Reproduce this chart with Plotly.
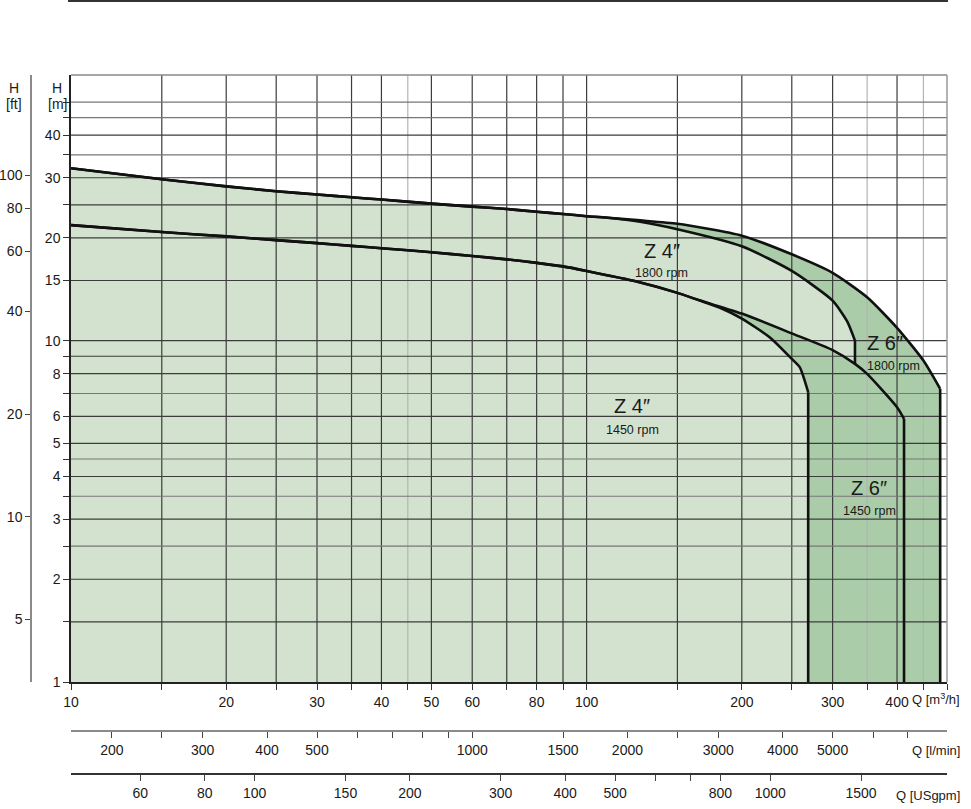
import math
import plotly.graph_objects as go

# ---------------- data ----------------
# Flow Q in m3/h, head H in m
Q_Z6_1800 = [10, 15, 20, 25, 30, 35, 40, 50, 60, 70, 80, 90, 100, 110, 127, 150, 200, 250, 300, 350, 400, 450, 485]
H_Z6_1800 = [32.0, 29.7, 28.3, 27.4, 26.8, 26.3, 25.9, 25.2, 24.7, 24.3, 23.85, 23.5, 23.15, 22.9, 22.5, 22.0, 20.3, 17.9, 15.8, 13.4, 10.9, 8.74, 7.22]

Q_Z4_1800 = [10, 15, 20, 25, 30, 35, 40, 50, 60, 70, 80, 90, 100, 110, 127, 150, 200, 250, 300, 320, 331.5, 331.5]
H_Z4_1800 = [32.0, 29.7, 28.3, 27.4, 26.8, 26.3, 25.9, 25.2, 24.7, 24.3, 23.85, 23.5, 23.15, 22.9, 22.3, 21.2, 18.9, 16.0, 13.1, 11.4, 10.0, 8.55]

Q_Z6_1450 = [10, 15, 20, 25, 30, 35, 40, 45, 50, 60, 70, 80, 90, 100, 125, 150, 166, 200, 250, 300, 331.5, 350, 400, 412.7]
H_Z6_1450 = [21.8, 20.8, 20.2, 19.7, 19.3, 18.95, 18.65, 18.4, 18.15, 17.7, 17.3, 16.9, 16.5, 16.0, 14.9, 13.8, 13.1, 12.0, 10.5, 9.38, 8.55, 7.99, 6.38, 5.9]

Q_Z4_1450 = [10, 15, 20, 25, 30, 35, 40, 45, 50, 60, 70, 80, 90, 100, 125, 150, 166, 181, 200, 227, 250, 259, 269]
H_Z4_1450 = [21.8, 20.8, 20.2, 19.7, 19.3, 18.95, 18.65, 18.4, 18.15, 17.7, 17.3, 16.9, 16.5, 16.0, 14.9, 13.8, 13.1, 12.5, 11.6, 10.2, 8.84, 8.36, 7.06]

# axis ranges
Q_RANGE = [10, 500]
H_RANGE = [1, 60]

# grid / tick values
GRID_Q = [15, 20, 25, 30, 35, 40, 45, 50, 60, 70, 80, 90, 100, 150, 200, 250, 300, 350, 400, 450]
GRID_Q_LIGHT = [45, 350, 450]
GRID_H = [1.5, 2, 2.5, 3, 3.5, 4, 4.5, 5, 6, 7, 8, 9, 10, 15, 20, 25, 30, 35, 40, 45, 50]
GRID_H_LIGHT = [2.5, 3.5, 4.5, 7, 35, 45, 50]

Q_LABELS = [10, 20, 30, 40, 50, 60, 80, 100, 200, 300, 400]
H_LABELS = [1, 2, 3, 4, 5, 6, 8, 10, 15, 20, 30, 40]

FT_TICKS = [5, 10, 20, 40, 60, 80, 100]
LMIN_TICKS = [200, 250, 300, 400, 500, 600, 700, 800, 900, 1000, 1500, 2000, 2500, 3000, 4000, 5000, 6000, 7000]
LMIN_LABELS = [200, 300, 400, 500, 1000, 1500, 2000, 3000, 4000, 5000]
GPM_TICKS = [60, 80, 100, 150, 200, 300, 400, 500, 600, 700, 800, 1000, 1500]
GPM_LABELS = [60, 80, 100, 150, 200, 300, 400, 500, 800, 1000, 1500]

# unit conversions
LMIN_PER_M3H = 1000.0 / 60.0
GPM_PER_M3H = 1.0 / 0.227125
FT_PER_M = 1.0 / 0.3048

# curve labels: (text, sub-text, Q, H of title, H of sub-text, anchor)
LABELS = [
    ("Z 4″", "1800 rpm", 140, 18.3, 15.8, "center"),
    ("Z 6″", "1800 rpm", 347, 9.87, 8.45, "left"),
    ("Z 4″", "1450 rpm", 122.5, 6.45, 5.49, "center"),
    ("Z 6″", "1450 rpm", 353, 3.69, 3.16, "center"),
]

# ---------------- styling ----------------
LIGHT = "#d3e2ce"
DARK = "#aacca8"
GRID_DARK = "#3c3c3c"
GRID_LIGHT = "#b4b4b4"
FONT = "Liberation Sans Narrow, Arial Narrow, Liberation Sans, Arial, sans-serif"
TXT = "#1a1a1a"

W, Hh = 971, 809


def pxx(x):
    return x / W


def pyy(y):
    return (Hh - y) / Hh


fig = go.Figure()


def region(q, h):
    xs = list(q) + [q[-1], Q_RANGE[0]]
    ys = list(h) + [H_RANGE[0], H_RANGE[0]]
    return xs, ys


for q, h, col in [(Q_Z6_1800, H_Z6_1800, DARK), (Q_Z4_1800, H_Z4_1800, LIGHT),
                  (Q_Z6_1450, H_Z6_1450, DARK), (Q_Z4_1450, H_Z4_1450, LIGHT)]:
    xs, ys = region(q, h)
    fig.add_trace(go.Scatter(x=xs, y=ys, fill="toself", fillcolor=col, mode="lines",
                             line=dict(width=0, color=col), hoverinfo="skip", showlegend=False))


# grid lines drawn above the fills
def vgrid(vals):
    xs, ys = [], []
    for v in vals:
        xs += [v, v, None]
        ys += [H_RANGE[0], H_RANGE[1], None]
    return xs, ys


def hgrid(vals):
    xs, ys = [], []
    for v in vals:
        xs += [Q_RANGE[0], Q_RANGE[1], None]
        ys += [v, v, None]
    return xs, ys


for vals, col, fn in [([v for v in GRID_Q if v not in GRID_Q_LIGHT], GRID_DARK, vgrid),
                      (GRID_Q_LIGHT, GRID_LIGHT, vgrid),
                      ([v for v in GRID_H if v not in GRID_H_LIGHT], GRID_DARK, hgrid),
                      (GRID_H_LIGHT, "#777777", hgrid)]:
    xs, ys = fn(vals)
    fig.add_trace(go.Scatter(x=xs, y=ys, mode="lines", line=dict(color=col, width=1.2),
                             hoverinfo="skip", showlegend=False))

# curve outlines (smooth part + vertical end)
for q, h, drop in [(Q_Z6_1800, H_Z6_1800, True), (Q_Z4_1800, H_Z4_1800, False),
                   (Q_Z6_1450, H_Z6_1450, True), (Q_Z4_1450, H_Z4_1450, True)]:
    if drop:
        cq, ch = list(q), list(h)
        vq, vh = [q[-1], q[-1]], [h[-1], H_RANGE[0]]
    else:
        cq, ch = list(q[:-1]), list(h[:-1])
        vq, vh = [q[-2], q[-1]], [h[-2], h[-1]]
    fig.add_trace(go.Scatter(x=cq, y=ch, mode="lines",
                             line=dict(color="#111111", width=2.6, shape="spline", smoothing=0.6),
                             hoverinfo="skip", showlegend=False))
    fig.add_trace(go.Scatter(x=vq, y=vh, mode="lines", line=dict(color="#111111", width=2.6),
                             hoverinfo="skip", showlegend=False))

# invisible traces to activate the secondary axes
fig.add_trace(go.Scatter(x=[Q_RANGE[0] * LMIN_PER_M3H], y=[H_RANGE[0]], xaxis="x2", yaxis="y",
                         mode="markers", marker=dict(opacity=0), hoverinfo="skip", showlegend=False))
fig.add_trace(go.Scatter(x=[Q_RANGE[0] * GPM_PER_M3H], y=[H_RANGE[0]], xaxis="x3", yaxis="y",
                         mode="markers", marker=dict(opacity=0), hoverinfo="skip", showlegend=False))
fig.add_trace(go.Scatter(x=[Q_RANGE[0]], y=[H_RANGE[0] * FT_PER_M], xaxis="x", yaxis="y2",
                         mode="markers", marker=dict(opacity=0), hoverinfo="skip", showlegend=False))


def lg(v):
    return math.log10(v)


def txt(vals, labels):
    return [str(v) if v in labels else "" for v in vals]


tickfont = dict(family=FONT, size=14, color=TXT)
xdom = [pxx(71), pxx(947)]
ydom = [pyy(682), pyy(75)]

q_ticks = [Q_RANGE[0]] + GRID_Q + [Q_RANGE[1]]
h_ticks = [H_RANGE[0]] + GRID_H

common = dict(showgrid=False, zeroline=False, showline=True, linewidth=1.5, ticks="outside",
              tickwidth=1, tickfont=tickfont, automargin=False, fixedrange=True)

fig.update_layout(
    width=W, height=Hh,
    margin=dict(l=0, r=0, t=0, b=0, autoexpand=False),
    paper_bgcolor="white", plot_bgcolor="white",
    showlegend=False,
    xaxis=dict(type="log", range=[lg(Q_RANGE[0]), lg(Q_RANGE[1])], domain=xdom, anchor="y",
               linecolor="#222", ticklen=6, tickcolor="#333",
               tickvals=q_ticks, ticktext=txt(q_ticks, Q_LABELS), **common),
    yaxis=dict(type="log", range=[lg(H_RANGE[0]), lg(H_RANGE[1])], domain=ydom, anchor="x",
               linecolor="#222", ticklen=6, tickcolor="#333",
               tickvals=h_ticks, ticktext=txt(h_ticks, H_LABELS), **common),
    xaxis2=dict(type="log", overlaying="x", anchor="free", position=pyy(731), side="bottom",
                range=[lg(Q_RANGE[0] * LMIN_PER_M3H), lg(Q_RANGE[1] * LMIN_PER_M3H)],
                linecolor="#8a8a8a", ticklen=6, tickcolor="#444",
                tickvals=LMIN_TICKS, ticktext=txt(LMIN_TICKS, LMIN_LABELS), **common),
    xaxis3=dict(type="log", overlaying="x", anchor="free", position=pyy(774), side="bottom",
                range=[lg(Q_RANGE[0] * GPM_PER_M3H), lg(Q_RANGE[1] * GPM_PER_M3H)],
                linecolor="#333", ticklen=6, tickcolor="#444",
                tickvals=GPM_TICKS, ticktext=txt(GPM_TICKS, GPM_LABELS), **common),
    yaxis2=dict(type="log", overlaying="y", anchor="free", position=pxx(31), side="left",
                range=[lg(H_RANGE[0] * FT_PER_M), lg(H_RANGE[1] * FT_PER_M)],
                linecolor="#8a8a8a", ticklen=5, tickcolor="#444",
                tickvals=FT_TICKS, ticktext=[str(v) for v in FT_TICKS], **common),
)

shapes = [
    dict(type="line", xref="paper", yref="paper", x0=pxx(68), x1=pxx(948), y0=pyy(1), y1=pyy(1),
         line=dict(color="#333", width=2)),
    dict(type="line", xref="paper", yref="paper", x0=xdom[0], x1=xdom[1], y0=ydom[1], y1=ydom[1],
         line=dict(color="#8a8a8a", width=1.5)),
    dict(type="line", xref="paper", yref="paper", x0=xdom[1], x1=xdom[1], y0=ydom[0], y1=ydom[1],
         line=dict(color="#9a9a9a", width=1.5)),
]
fig.update_layout(shapes=shapes)

ann = []
for title, sub, q, h1, h2, anchor in LABELS:
    ann.append(dict(x=lg(q), y=lg(h1), xref="x", yref="y", text=title, showarrow=False,
                    xanchor=anchor, yanchor="middle", font=dict(family=FONT, size=20, color=TXT)))
    ann.append(dict(x=lg(q), y=lg(h2), xref="x", yref="y", text=sub, showarrow=False,
                    xanchor=anchor, yanchor="middle", font=dict(family=FONT, size=12.5, color=TXT)))

for t, x, y in [("H", 14, 88), ("[ft]", 14, 104), ("H", 57, 88), ("[m]", 57, 104)]:
    ann.append(dict(x=pxx(x), y=pyy(y), xref="paper", yref="paper", text=t, showarrow=False,
                    xanchor="center", yanchor="middle", font=dict(family=FONT, size=14, color=TXT)))

for t, y in [("Q [m<sup>3</sup>/h]", 699), ("Q [l/min]", 750), ("Q [USgpm]", 795)]:
    ann.append(dict(x=pxx(962), y=pyy(y), xref="paper", yref="paper", text=t, showarrow=False,
                    xanchor="right", yanchor="middle", font=dict(family=FONT, size=13, color=TXT)))

fig.update_layout(annotations=ann)

fig.write_html("out.html", config={"displayModeBar": False},
               post_script="document.body.style.margin='0';")
